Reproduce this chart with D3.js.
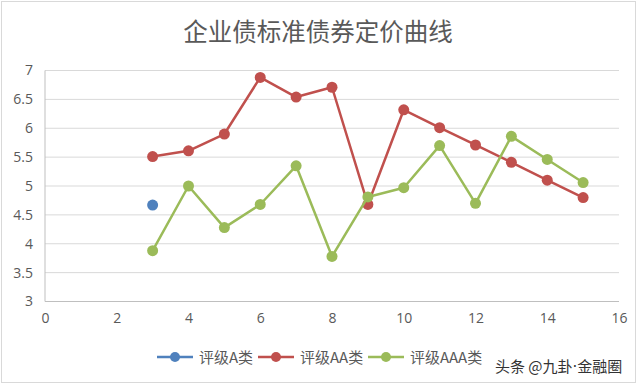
<!DOCTYPE html>
<html>
<head>
<meta charset="utf-8">
<script src="https://cdn.jsdelivr.net/npm/d3@7"></script>
<style>
  body { margin: 0; background: #fff; }
  text { font-family: "Microsoft YaHei", "Noto Sans CJK SC", sans-serif; }
</style>
</head>
<body>
<div id="chart"></div>
<script>
// -------- data --------
var seriesNames = ['评级A类', '评级AA类', '评级AAA类'];
var seriesColors = ['#4f81bd', '#c0504d', '#9bbb59'];
var ratingA = [[3, 4.67]];
var ratingAA = [[3, 5.51], [4, 5.61], [5, 5.90], [6, 6.88], [7, 6.54], [8, 6.71], [9, 4.68],
                [10, 6.32], [11, 6.01], [12, 5.71], [13, 5.41], [14, 5.10], [15, 4.80]];
var ratingAAA = [[3, 3.88], [4, 5.00], [5, 4.28], [6, 4.68], [7, 5.35], [8, 3.78], [9, 4.81],
                 [10, 4.97], [11, 5.70], [12, 4.70], [13, 5.86], [14, 5.46], [15, 5.06]];
var xTicks = [0, 2, 4, 6, 8, 10, 12, 14, 16];
var yTicks = [3, 3.5, 4, 4.5, 5, 5.5, 6, 6.5, 7];
var allSeries = [ratingA, ratingAA, ratingAAA];

var W = 640, H = 385;
var svg = d3.select('#chart').append('svg').attr('width', W).attr('height', H);

// outer frame
svg.append('rect').attr('x', 1.5).attr('y', 1.5).attr('width', W - 6).attr('height', H - 4)
  .attr('fill', '#fff').attr('stroke', '#d9d9d9');

var x = d3.scaleLinear().domain([0, 16]).range([45, 619]);
var y = d3.scaleLinear().domain([3, 7]).range([301.5, 70.5]);

// title
svg.append('text').attr('x', 318).attr('y', 41).attr('text-anchor', 'middle')
  .attr('font-size', 24.5).attr('fill', '#595959').text('企业债标准债券定价曲线');

// horizontal gridlines
svg.append('g').selectAll('line').data(yTicks).enter().append('line')
  .attr('x1', x(0)).attr('x2', x(16))
  .attr('y1', function(d) { return y(d); }).attr('y2', function(d) { return y(d); })
  .attr('stroke', function(d) { return d === 3 ? '#bfbfbf' : '#d9d9d9'; })
  .attr('stroke-width', 1);

// y axis line
svg.append('line').attr('x1', x(0)).attr('x2', x(0)).attr('y1', y(7)).attr('y2', y(3))
  .attr('stroke', '#bfbfbf');

// tick labels
var yAxis = d3.axisLeft(y).tickValues(yTicks).tickSize(0).tickPadding(12).tickFormat(d3.format('~g'));
var gy = svg.append('g').attr('transform', 'translate(' + x(0) + ',0)').call(yAxis);
gy.select('.domain').remove();
gy.selectAll('text').attr('font-size', 14).attr('fill', '#595959')
  .style('font-family', '"Open Sans", sans-serif');

var xAxis = d3.axisBottom(x).tickValues(xTicks).tickSize(0).tickPadding(12);
var gx = svg.append('g').attr('transform', 'translate(0,' + y(3) + ')').call(xAxis);
gx.select('.domain').remove();
gx.selectAll('text').attr('font-size', 14).attr('fill', '#595959')
  .style('font-family', '"Open Sans", sans-serif');

// series lines and markers
var line = d3.line().x(function(d) { return x(d[0]); }).y(function(d) { return y(d[1]); });
allSeries.forEach(function(s, i) {
  svg.append('path').datum(s).attr('d', line).attr('fill', 'none')
    .attr('stroke', seriesColors[i]).attr('stroke-width', 2.5).attr('stroke-linejoin', 'round');
  svg.append('g').selectAll('circle').data(s).enter().append('circle')
    .attr('cx', function(d) { return x(d[0]); }).attr('cy', function(d) { return y(d[1]); })
    .attr('r', 5.5).attr('fill', seriesColors[i]);
});

// legend
var legendX = [157, 258, 368];
var lg = svg.append('g').selectAll('g').data(seriesNames).enter().append('g')
  .attr('transform', function(d, i) { return 'translate(' + legendX[i] + ',357)'; });
lg.append('line').attr('x1', 0).attr('x2', 36).attr('y1', 0).attr('y2', 0)
  .attr('stroke', function(d, i) { return seriesColors[i]; }).attr('stroke-width', 2.5);
lg.append('circle').attr('cx', 18).attr('cy', 0).attr('r', 5)
  .attr('fill', function(d, i) { return seriesColors[i]; });
lg.append('text').attr('x', 42).attr('y', 5.5).attr('font-size', 15).attr('fill', '#595959')
  .text(function(d) { return d; });

// watermark
var wm = svg.append('text').attr('x', 495).attr('y', 372).attr('font-size', 15).attr('fill', '#333');
wm.append('tspan').text('头条 @九卦');
wm.append('tspan').style('font-family', '"DejaVu Sans", sans-serif').text('·');
wm.append('tspan').text('金融圈');
</script>
</body>
</html>
